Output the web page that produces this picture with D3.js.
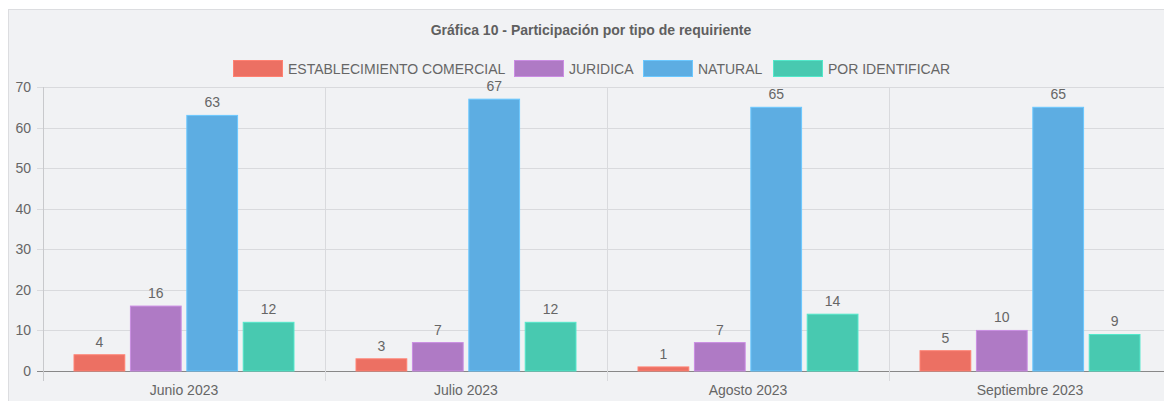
<!DOCTYPE html>
<html>
<head>
<meta charset="utf-8">
<script src="https://cdn.jsdelivr.net/npm/d3@7"></script>
<style>
  body { margin: 0; background: #fff; }
  svg { display: block; font-family: "Liberation Sans", Arial, sans-serif; }
</style>
</head>
<body>
<div id="chart"></div>
<script>
const categories = ["Junio 2023", "Julio 2023", "Agosto 2023", "Septiembre 2023"];
const seriesNames = ["ESTABLECIMIENTO COMERCIAL", "JURIDICA", "NATURAL", "POR IDENTIFICAR"];
const seriesColors = ["#EC7063", "#AF7AC5", "#5DADE2", "#48C9B0"];
const establecimiento = [4, 3, 1, 5];
const juridica = [16, 7, 7, 10];
const natural = [63, 67, 65, 65];
const porIdentificar = [12, 12, 14, 9];
const yTicks = [0, 10, 20, 30, 40, 50, 60, 70];
const title = "Gráfica 10 - Participación por tipo de requiriente";

const series = [establecimiento, juridica, natural, porIdentificar];

const W = 1164, H = 401;
const margin = { top: 87, right: -7, bottom: 30, left: 43 };
const width = W - margin.left - margin.right;
const height = H - margin.top - margin.bottom;

const root = d3.select("#chart").append("svg")
    .attr("width", W)
    .attr("height", H);

// panel background
root.append("rect")
    .attr("x", 8.5).attr("y", 9.5)
    .attr("width", W).attr("height", H)
    .attr("fill", "#f1f2f4")
    .attr("stroke", "#dcdde0");

root.append("text")
    .attr("x", 591).attr("y", 35)
    .attr("text-anchor", "middle")
    .attr("font-size", 14)
    .attr("font-weight", "bold")
    .attr("fill", "#5f5f5f")
    .text(title);

// legend
const legendX = [233, 514, 643, 773];
const legend = root.append("g");
seriesNames.forEach((name, i) => {
    const g = legend.append("g").attr("transform", `translate(${legendX[i]},60)`);
    g.append("rect")
        .attr("x", 0.5).attr("y", 0.5)
        .attr("width", 49).attr("height", 16)
        .attr("fill", seriesColors[i])
        .attr("stroke", d3.color(seriesColors[i]).brighter(0.4));
    g.append("text")
        .attr("x", 55).attr("y", 13.5)
        .attr("font-size", 14)
        .attr("fill", "#666")
        .text(name);
});

const svg = root.append("g")
    .attr("transform", `translate(${margin.left},${margin.top})`);

const x0 = d3.scaleBand()
    .domain(categories)
    .range([0, width])
    .paddingInner(0)
    .paddingOuter(0);

const x1 = d3.scaleBand()
    .domain(d3.range(series.length))
    .range([x0.bandwidth() * 0.1, x0.bandwidth() * 0.9])
    .paddingInner(0.1)
    .paddingOuter(0.05);

const y = d3.scaleLinear()
    .domain([0, 70])
    .range([height, 0]);

// horizontal grid
svg.append("g")
    .selectAll("line")
    .data(yTicks)
    .enter().append("line")
    .attr("x1", -6).attr("x2", width)
    .attr("y1", d => Math.round(y(d)) + 0.5)
    .attr("y2", d => Math.round(y(d)) + 0.5)
    .attr("stroke", d => d === 0 ? "#888" : "#d9dadd");

// vertical grid
svg.append("g")
    .selectAll("line")
    .data(d3.range(categories.length + 1))
    .enter().append("line")
    .attr("x1", d => Math.round(d * x0.bandwidth()) + 0.5)
    .attr("x2", d => Math.round(d * x0.bandwidth()) + 0.5)
    .attr("y1", 0).attr("y2", height + 10)
    .attr("stroke", d => d === 0 ? "#c8c9cc" : "#d9dadd");

// y axis labels
svg.append("g")
    .selectAll("text")
    .data(yTicks)
    .enter().append("text")
    .attr("x", -12)
    .attr("y", d => y(d) + 5)
    .attr("text-anchor", "end")
    .attr("font-size", 14)
    .attr("fill", "#666")
    .text(d => d);

// x axis labels
svg.append("g")
    .selectAll("text")
    .data(categories)
    .enter().append("text")
    .attr("x", d => x0(d) + x0.bandwidth() / 2)
    .attr("y", height + 24)
    .attr("text-anchor", "middle")
    .attr("font-size", 14)
    .attr("fill", "#666")
    .text(d => d);

// bars
const groups = svg.selectAll(".grp")
    .data(categories)
    .enter().append("g")
    .attr("class", "grp")
    .attr("transform", d => `translate(${x0(d)},0)`);

groups.selectAll("rect")
    .data((d, ci) => series.map((s, si) => ({ si: si, v: s[ci] })))
    .enter().append("rect")
    .attr("x", d => x1(d.si))
    .attr("y", d => y(d.v))
    .attr("width", x1.bandwidth())
    .attr("height", d => height - y(d.v))
    .attr("fill", d => seriesColors[d.si])
    .attr("stroke", d => d3.color(seriesColors[d.si]).brighter(0.4))
    .attr("stroke-width", 1);

groups.selectAll(".lbl")
    .data((d, ci) => series.map((s, si) => ({ si: si, v: s[ci] })))
    .enter().append("text")
    .attr("class", "lbl")
    .attr("x", d => x1(d.si) + x1.bandwidth() / 2)
    .attr("y", d => y(d.v) - 8)
    .attr("text-anchor", "middle")
    .attr("font-size", 14)
    .attr("fill", "#666")
    .text(d => d.v);
</script>
</body>
</html>
